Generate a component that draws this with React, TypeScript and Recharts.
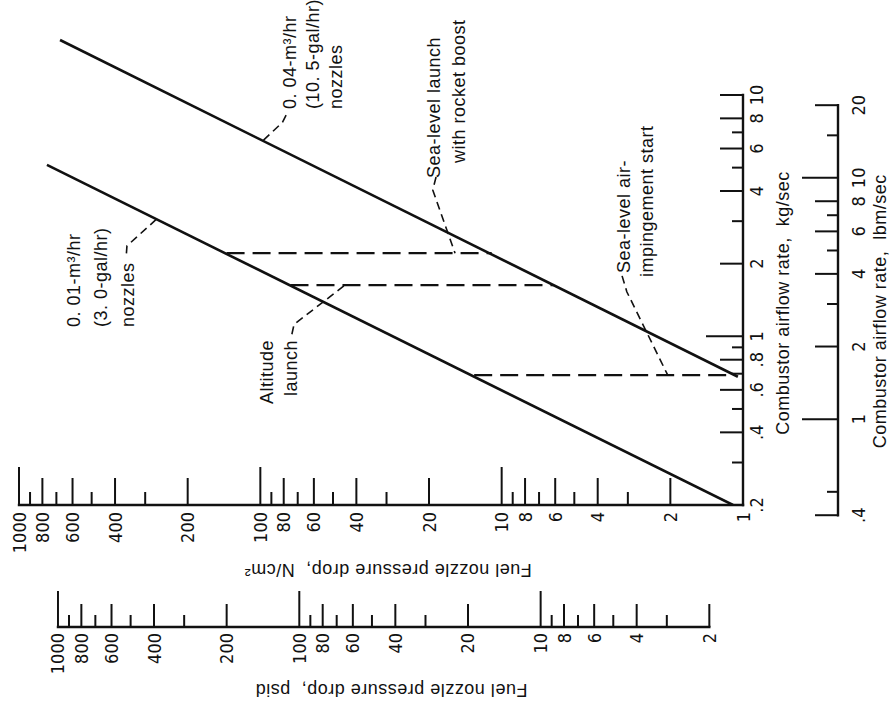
import React from 'react';
import { LineChart, Line, XAxis, YAxis, ReferenceDot } from 'recharts';

// ---------- units ----------
const KG_PER_LBM = 0.45359237;
const NCM2_PER_PSI = 0.689476;

// ---------- axis ranges (kg/sec, N/cm^2) ----------
const FLOW_RANGE_KG = [0.2, 20];
const PRESSURE_RANGE_NCM2 = [1, 1000];

// ---------- series (flow kg/sec, pressure drop N/cm^2) ----------
const NOZZLE_004 = [
  { flow: 0.68, dp: 1.05 },
  { flow: 16.9, dp: 676 },
];
const NOZZLE_001 = [
  { flow: 0.2, dp: 1.1 },
  { flow: 5.13, dp: 766 },
];
const ROCKET_BOOST = [
  { flow: 2.21, dp: 138 },
  { flow: 2.21, dp: 11 },
];
const ALTITUDE_LAUNCH = [
  { flow: 1.63, dp: 75 },
  { flow: 1.63, dp: 6.1 },
];
const AIR_IMPINGEMENT = [
  { flow: 0.69, dp: 13 },
  { flow: 0.69, dp: 1.1 },
];

// leader lines from labels to curves
const LEADER_004 = [
  { flow: 6.5, dp: 97 },
  { flow: 7.7, dp: 81 },
  { flow: 8.5, dp: 77 },
];
const LEADER_001 = [
  { flow: 3.05, dp: 270 },
  { flow: 2.37, dp: 357 },
  { flow: 2.11, dp: 360 },
];
const LEADER_ALTITUDE = [
  { flow: 1.02, dp: 74 },
  { flow: 1.12, dp: 72.5 },
  { flow: 1.63, dp: 44.6 },
];
const LEADER_ROCKET = [
  { flow: 4.57, dp: 18.7 },
  { flow: 4.04, dp: 19.3 },
  { flow: 2.21, dp: 15.6 },
];
const LEADER_AIR = [
  { flow: 1.78, dp: 3.17 },
  { flow: 1.53, dp: 3.03 },
  { flow: 0.69, dp: 2.05 },
];

// the 0.04 curve expressed in lbm/sec (drawn through the lbm axis, which is aligned with the kg axis)
const NOZZLE_004_LBM = NOZZLE_004.map((d) => ({ flowLbm: d.flow / KG_PER_LBM, dp: d.dp }));

// ---------- annotation texts & anchors ----------
const TEXT_004 = ['0. 04-m\u00B3/hr', '(10. 5-gal/hr)', 'nozzles'];
const AT_004 = { flow: 8.75, dp: 71.2 };
const TEXT_001 = ['0. 01-m\u00B3/hr', '(3. 0-gal/hr)', 'nozzles'];
const AT_001 = { flow: 1.093, dp: 559 };
const TEXT_ALTITUDE = ['Altitude', 'launch'];
const AT_ALTITUDE = { flow: 0.966, dp: 88.6 };
const TEXT_ROCKET = ['Sea-level launch', 'with rocket boost'];
const AT_ROCKET = { flow: 4.53, dp: 18.0 };
const TEXT_AIR = ['Sea-level air-', 'impingement start'];
const AT_AIR = { flow: 1.761, dp: 2.94 };

// ---------- ticks ----------
const KG_TICKS = [0.2, 0.3, 0.4, 0.5, 0.6, 0.7, 0.8, 0.9, 1, 2, 3, 4, 5, 6, 7, 8, 10];
const KG_TICK_LABELS = ['.2', '', '.4', '', '.6', '', '.8', '', '1', '2', '', '4', '', '6', '', '8', '10'];
const LBM_TICKS = [0.4, 0.5, 1, 2, 3, 4, 5, 6, 7, 8, 10, 15, 20];
const LBM_TICK_LABELS = ['.4', '', '1', '2', '', '4', '', '6', '', '8', '10', '', '20'];
const NCM2_TICKS = [1, 2, 3, 4, 5, 6, 7, 8, 9, 10, 20, 30, 40, 50, 60, 70, 80, 90, 100, 200, 300, 400, 500, 600, 700, 800, 900, 1000];
const NCM2_TICK_LABELS = ['1', '2', '', '4', '', '6', '', '8', '', '10', '20', '', '40', '', '60', '', '80', '', '100', '200', '', '400', '', '600', '', '800', '', '1000'];
const PSID_TICKS = [2, 3, 4, 5, 6, 7, 8, 9, 10, 20, 30, 40, 50, 60, 70, 80, 90, 100, 200, 300, 400, 500, 600, 700, 800, 900, 1000];
const PSID_TICK_LABELS = ['2', '', '4', '', '6', '', '8', '', '10', '20', '', '40', '', '60', '', '80', '', '100', '200', '', '400', '', '600', '', '800', '', '1000'];

const KG_TITLE = 'Combustor airflow rate,  kg/sec';
const LBM_TITLE = 'Combustor airflow rate,  lbm/sec';
const NCM2_TITLE = 'Fuel nozzle pressure drop,  N/cm\u00B2';
const PSID_TITLE = 'Fuel nozzle pressure drop,  psid';

// ---------- layout ----------
const W = 709;
const H = 896;
const MARGIN = { top: 19, right: 22.33, bottom: 0, left: 0 };
const KG_AXIS_H = 95;
const LBM_AXIS_H = 58;
const NCM2_AXIS_W = 122;
const PSID_AXIS_W = 82;
const PLOT_W = W - MARGIN.left - MARGIN.right - NCM2_AXIS_W - PSID_AXIS_W;
const PLOT_H = H - MARGIN.top - MARGIN.bottom - KG_AXIS_H - LBM_AXIS_H;
const PPD_X = PLOT_W / Math.log10(FLOW_RANGE_KG[1] / FLOW_RANGE_KG[0]);
const PPD_Y = PLOT_H / Math.log10(PRESSURE_RANGE_NCM2[1] / PRESSURE_RANGE_NCM2[0]);

const INK = '#111';
const TICK_FONT = "'Liberation Sans Narrow', 'Arial Narrow', 'DejaVu Sans Condensed', sans-serif";
const TEXT_FONT = "'Liberation Sans', Arial, sans-serif";
const TEXT_SPACING = 0.5;

type AxisDef = {
  ticks: number[];
  labels: string[];
  major: number[];
  corner?: number;
  lens: { major: number; labeled: number; minor: number };
  labelGap: number;
  orient: 'bottom' | 'left';
  ppd: number;
  title: string;
  titleDx: number;
  titleDy: number;
};

const makeTick = (a: AxisDef) => (props: any) => {
  const { x, y, payload } = props;
  const v = payload.value;
  const i = a.ticks.indexOf(v);
  const label = i >= 0 ? a.labels[i] : '';
  let len = label === '' ? a.lens.minor : a.major.includes(v) ? a.lens.major : a.lens.labeled;
  if (v === a.corner) len = 0;
  const first = a.ticks[0];
  const last = a.ticks[a.ticks.length - 1];
  const axisLen = a.ppd * Math.log10(last / first);
  const isFirst = v === first;
  if (a.orient === 'bottom') {
    const tx = x + a.titleDx;
    const ty = y + a.titleDy;
    return (
      <g>
        {isFirst && (
          <line x1={x} y1={y} x2={x + axisLen} y2={y} stroke={INK} strokeWidth={2.4} strokeLinecap="square" />
        )}
        {len > 0 && <line x1={x} y1={y} x2={x} y2={y - len} stroke={INK} strokeWidth={2} />}
        {label !== '' && (
          <text x={x} y={y + a.labelGap} textAnchor="middle" fontFamily={TICK_FONT} fontSize={18} fill={INK}>
            {label}
          </text>
        )}
        {isFirst && (
          <text x={tx} y={ty} textAnchor="middle" fontFamily={TEXT_FONT} fontSize={18} fill={INK}
            letterSpacing={TEXT_SPACING} style={{ whiteSpace: 'pre' }}>
            {a.title}
          </text>
        )}
      </g>
    );
  }
  const tx = x + a.titleDx;
  const ty = y + a.titleDy;
  return (
    <g>
      {isFirst && (
        <line x1={x} y1={y} x2={x} y2={y - axisLen} stroke={INK} strokeWidth={2.4} strokeLinecap="square" />
      )}
      {len > 0 && <line x1={x} y1={y} x2={x + len} y2={y} stroke={INK} strokeWidth={2} />}
      {label !== '' && (
        <text x={x - a.labelGap} y={y + 6.5} textAnchor="end" fontFamily={TICK_FONT} fontSize={18} fill={INK}>
          {label}
        </text>
      )}
      {isFirst && (
        <text
          x={tx}
          y={ty}
          textAnchor="middle"
          transform={`rotate(-90, ${tx}, ${ty})`}
          fontFamily={TEXT_FONT}
          fontSize={18}
          fill={INK}
          letterSpacing={TEXT_SPACING}
          style={{ whiteSpace: 'pre' }}
        >
          {a.title}
        </text>
      )}
    </g>
  );
};

const KG_AXIS: AxisDef = {
  ticks: KG_TICKS, labels: KG_TICK_LABELS, major: [1], corner: 0.2,
  lens: { major: 37, labeled: 23, minor: 11 }, labelGap: 20, orient: 'bottom', ppd: PPD_X,
  title: KG_TITLE, titleDx: 202, titleDy: 46,
};
const LBM_AXIS: AxisDef = {
  ticks: LBM_TICKS, labels: LBM_TICK_LABELS, major: [1, 10],
  lens: { major: 36, labeled: 23, minor: 11 }, labelGap: 27, orient: 'bottom', ppd: PPD_X,
  title: LBM_TITLE, titleDx: 204, titleDy: 48,
};
const NCM2_AXIS: AxisDef = {
  ticks: NCM2_TICKS, labels: NCM2_TICK_LABELS, major: [10, 100, 1000], corner: 1,
  lens: { major: 38, labeled: 27, minor: 13 }, labelGap: 7, orient: 'left', ppd: PPD_Y,
  title: NCM2_TITLE, titleDx: -59, titleDy: -355,
};
const PSID_AXIS: AxisDef = {
  ticks: PSID_TICKS, labels: PSID_TICK_LABELS, major: [10, 100, 1000],
  lens: { major: 36, labeled: 23, minor: 12 }, labelGap: 6, orient: 'left', ppd: PPD_Y,
  title: PSID_TITLE, titleDx: -57, titleDy: -318,
};

const labelShape = (lines: string[], anchor: 'start' | 'end' | 'middle', lineHeight: number, dxs: number[] = []) =>
  (p: any) => (
    <text textAnchor={anchor} fontFamily={TEXT_FONT} fontSize={18} fill={INK} letterSpacing={TEXT_SPACING}
      style={{ whiteSpace: 'pre' }}>
      {lines.map((t, i) => (
        <tspan key={i} x={p.cx + (dxs[i] || 0)} y={p.cy + i * lineHeight}>
          {t}
        </tspan>
      ))}
    </text>
  );

const solid = { stroke: INK, strokeWidth: 2.6, dot: false, activeDot: false, isAnimationActive: false } as const;
const dashed = { stroke: INK, strokeWidth: 2.2, strokeDasharray: '18 8', dot: false, activeDot: false, isAnimationActive: false } as const;
const leader = { stroke: INK, strokeWidth: 1.6, strokeDasharray: '8 5', dot: false, activeDot: false, isAnimationActive: false } as const;

export default function App() {
  return (
    <div style={{ position: 'absolute', left: 0, top: 0, width: 896, height: 709, overflow: 'hidden', background: '#fff' }}>
      <div
        style={{
          position: 'absolute', left: 0, top: 0, width: W, height: H,
          transformOrigin: '0 0', transform: `translate(0px, ${W}px) rotate(-90deg)`,
        }}
      >
        <LineChart width={W} height={H} margin={MARGIN}>
          <XAxis
            xAxisId="kg" type="number" dataKey="flow" scale="log" domain={FLOW_RANGE_KG} allowDataOverflow
            ticks={KG_TICKS} interval={0} height={KG_AXIS_H} axisLine={false} tickLine={false}
            tickSize={0} tickMargin={0} tick={makeTick(KG_AXIS)}
          />
          <XAxis
            xAxisId="lbm" type="number" dataKey="flowLbm" scale="log"
            domain={[FLOW_RANGE_KG[0] / KG_PER_LBM, FLOW_RANGE_KG[1] / KG_PER_LBM]} allowDataOverflow
            ticks={LBM_TICKS} interval={0} height={LBM_AXIS_H} axisLine={false} tickLine={false}
            tickSize={0} tickMargin={0} tick={makeTick(LBM_AXIS)}
          />
          <YAxis
            yAxisId="ncm2" type="number" scale="log" domain={PRESSURE_RANGE_NCM2} allowDataOverflow
            ticks={NCM2_TICKS} interval={0} width={NCM2_AXIS_W} axisLine={false} tickLine={false}
            tickSize={0} tickMargin={0} tick={makeTick(NCM2_AXIS)}
          />
          <YAxis
            yAxisId="psid" type="number" scale="log"
            domain={[PRESSURE_RANGE_NCM2[0] / NCM2_PER_PSI, PRESSURE_RANGE_NCM2[1] / NCM2_PER_PSI]} allowDataOverflow
            ticks={PSID_TICKS} interval={0} width={PSID_AXIS_W} axisLine={false} tickLine={false}
            tickSize={0} tickMargin={0} tick={makeTick(PSID_AXIS)}
          />

          <Line xAxisId="lbm" yAxisId="ncm2" data={NOZZLE_004_LBM} dataKey="dp" {...solid} />
          <Line xAxisId="kg" yAxisId="ncm2" data={NOZZLE_001} dataKey="dp" {...solid} />
          <Line xAxisId="kg" yAxisId="ncm2" data={ROCKET_BOOST} dataKey="dp" {...dashed} />
          <Line xAxisId="kg" yAxisId="ncm2" data={ALTITUDE_LAUNCH} dataKey="dp" {...dashed} />
          <Line xAxisId="kg" yAxisId="ncm2" data={AIR_IMPINGEMENT} dataKey="dp" {...dashed} />

          <Line xAxisId="kg" yAxisId="ncm2" data={LEADER_004} dataKey="dp" {...leader} />
          <Line xAxisId="kg" yAxisId="ncm2" data={LEADER_001} dataKey="dp" {...leader} />
          <Line xAxisId="kg" yAxisId="ncm2" data={LEADER_ALTITUDE} dataKey="dp" {...leader} />
          <Line xAxisId="kg" yAxisId="ncm2" data={LEADER_ROCKET} dataKey="dp" {...leader} />
          <Line xAxisId="kg" yAxisId="ncm2" data={LEADER_AIR} dataKey="dp" {...leader} />

          <ReferenceDot xAxisId="kg" yAxisId="ncm2" x={AT_004.flow} y={AT_004.dp} r={0} ifOverflow="visible"
            shape={labelShape(TEXT_004, 'start', 23)} />
          <ReferenceDot xAxisId="kg" yAxisId="ncm2" x={AT_001.flow} y={AT_001.dp} r={0} ifOverflow="visible"
            shape={labelShape(TEXT_001, 'start', 27)} />
          <ReferenceDot xAxisId="kg" yAxisId="ncm2" x={AT_ALTITUDE.flow} y={AT_ALTITUDE.dp} r={0} ifOverflow="visible"
            shape={labelShape(TEXT_ALTITUDE, 'end', 24)} />
          <ReferenceDot xAxisId="kg" yAxisId="ncm2" x={AT_ROCKET.flow} y={AT_ROCKET.dp} r={0} ifOverflow="visible"
            shape={labelShape(TEXT_ROCKET, 'start', 25, [0, 15])} />
          <ReferenceDot xAxisId="kg" yAxisId="ncm2" x={AT_AIR.flow} y={AT_AIR.dp} r={0} ifOverflow="visible"
            shape={labelShape(TEXT_AIR, 'start', 23, [4, 0])} />
        </LineChart>
      </div>
    </div>
  );
}
